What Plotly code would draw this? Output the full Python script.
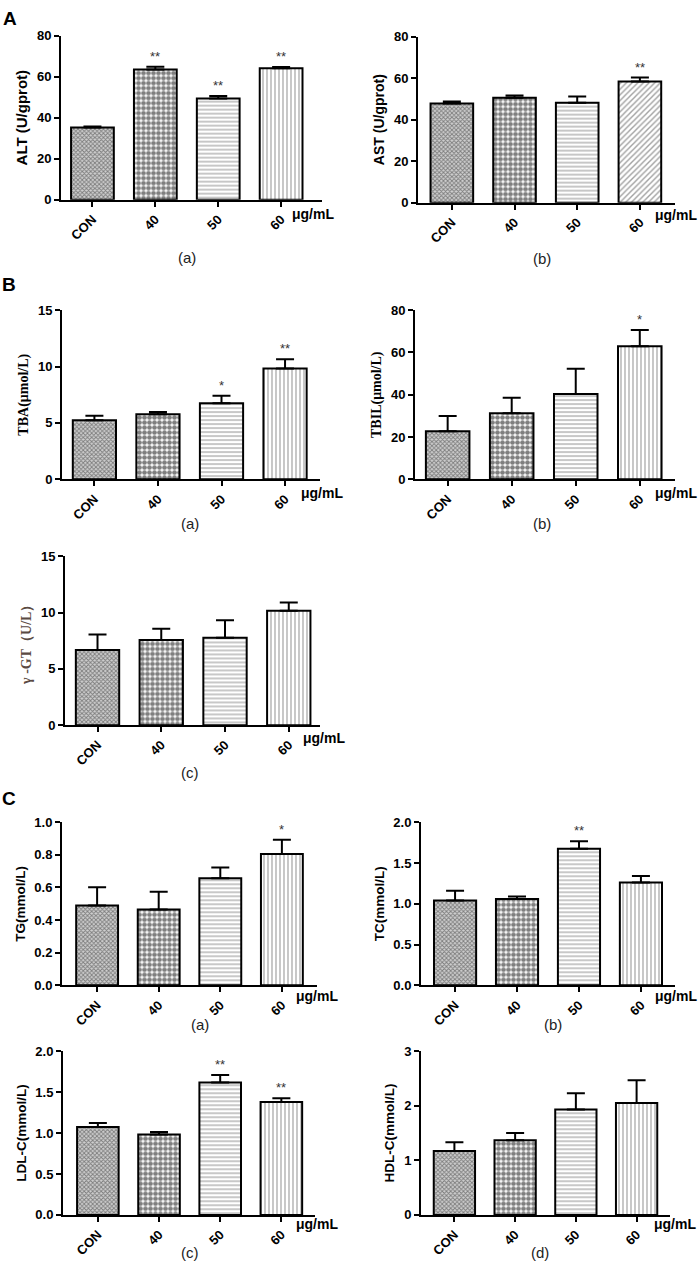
import plotly.graph_objects as go

W, H = 699, 1273

GROUPS = ["CON", "40", "50", "60"]

ALT = [35.2, 63.5, 49.3, 64.1]
ALT_ERR = [0.5, 1.3, 1.3, 0.6]
ALT_SIG = ["", "**", "**", "**"]

AST = [47.8, 50.6, 48.2, 58.4]
AST_ERR = [0.9, 1.1, 2.9, 1.9]
AST_SIG = ["", "", "", "**"]

TBA = [5.24, 5.76, 6.75, 9.82]
TBA_ERR = [0.40, 0.20, 0.65, 0.82]
TBA_SIG = ["", "", "*", "**"]

TBIL = [22.7, 31.3, 40.3, 62.9]
TBIL_ERR = [7.3, 7.3, 12.0, 7.7]
TBIL_SIG = ["", "", "", "*"]

GGT = [6.68, 7.56, 7.77, 10.17]
GGT_ERR = [1.38, 1.02, 1.55, 0.73]
GGT_SIG = ["", "", "", ""]

TG = [0.489, 0.465, 0.656, 0.806]
TG_ERR = [0.113, 0.109, 0.067, 0.087]
TG_SIG = ["", "", "", "*"]

TC = [1.042, 1.058, 1.676, 1.26]
TC_ERR = [0.118, 0.032, 0.09, 0.08]
TC_SIG = ["", "", "**", ""]

LDL = [1.075, 0.982, 1.618, 1.38]
LDL_ERR = [0.048, 0.032, 0.092, 0.045]
LDL_SIG = ["", "", "**", "**"]

HDL = [1.17, 1.37, 1.93, 2.05]
HDL_ERR = [0.16, 0.13, 0.30, 0.42]
HDL_SIG = ["", "", "", ""]

SANS = "Liberation Sans, Arial, sans-serif"
SERIF = "Liberation Serif, Times New Roman, serif"

PAT_CON = dict(shape="x", size=3, solidity=0.5, fgcolor="#2a2a2a", bgcolor="#cfcfcf")
PAT_40 = dict(shape=".", size=5, solidity=0.7, fgcolor="black", bgcolor="white")
PAT_50 = dict(shape="-", size=4, solidity=0.3, fgcolor="#444444", bgcolor="white")
PAT_60 = dict(shape="|", size=4, solidity=0.3, fgcolor="#444444", bgcolor="white")
PAT_DIAG = dict(shape="/", size=4, solidity=0.35, fgcolor="#444444", bgcolor="white")

# panel boxes in pixels: (left, right), (top, bottom)
panels = [
    dict(mean=ALT, err=ALT_ERR, sig=ALT_SIG, title="ALT (U/gprot)", tfont=SANS, tsize=15, tcolor="black",
         ymax=80, dtick=20, fmt="", px=(61, 322), py=(29, 195), xr=(-0.5, 3.65),
         cap="(a)", cap_xy=(187, 253), unit_xy=(313, 209), last=PAT_60),
    dict(mean=AST, err=AST_ERR, sig=AST_SIG, title="AST (U/gprot)", tfont=SANS, tsize=14, tcolor="black",
         ymax=80, dtick=20, fmt="", px=(418, 675), py=(30, 198), xr=(-0.54, 3.56),
         cap="(b)", cap_xy=(542, 255), unit_xy=(676, 210), last=PAT_DIAG),
    dict(mean=TBA, err=TBA_ERR, sig=TBA_SIG, title="TBA(μmol/L)", tfont=SERIF, tsize=14, tcolor="black",
         ymax=15, dtick=5, fmt="", px=(62, 320), py=(306.7, 478), xr=(-0.51, 3.55),
         cap="(a)", cap_xy=(190, 523), unit_xy=(322, 492), last=PAT_60),
    dict(mean=TBIL, err=TBIL_ERR, sig=TBIL_SIG, title="TBIL(μmol/L)", tfont=SERIF, tsize=14, tcolor="black",
         ymax=80, dtick=20, fmt="", px=(415, 675), py=(306.7, 478), xr=(-0.51, 3.55),
         cap="(b)", cap_xy=(542, 523), unit_xy=(676, 492), last=PAT_60),
    dict(mean=GGT, err=GGT_ERR, sig=GGT_SIG, title="γ -GT（U/L）", tfont=SERIF, tsize=14, tcolor="#5a4a42",
         ymax=15, dtick=5, fmt="", px=(65, 320), py=(556, 726.7), xr=(-0.51, 3.49),
         cap="(c)", cap_xy=(190, 775), unit_xy=(324, 740), last=PAT_60),
    dict(mean=TG, err=TG_ERR, sig=TG_SIG, title="TG(mmol/L)", tfont=SANS, tsize=13.5, tcolor="black",
         ymax=1.0, dtick=0.2, fmt=".1f", px=(62, 317), py=(825, 990), xr=(-0.57, 3.57),
         cap="(a)", cap_xy=(200, 1030), unit_xy=(317, 1001), last=PAT_60),
    dict(mean=TC, err=TC_ERR, sig=TC_SIG, title="TC(mmol/L)", tfont=SANS, tsize=13.5, tcolor="black",
         ymax=2.0, dtick=0.5, fmt=".1f", px=(421, 675), py=(825, 990), xr=(-0.55, 3.55),
         cap="(b)", cap_xy=(553, 1030), unit_xy=(676, 1001), last=PAT_60),
    dict(mean=LDL, err=LDL_ERR, sig=LDL_SIG, title="LDL-C(mmol/L)", tfont=SANS, tsize=13.5, tcolor="black",
         ymax=2.0, dtick=0.5, fmt=".1f", px=(63, 315), py=(1056.7, 1222.3), xr=(-0.57, 3.55),
         cap="(c)", cap_xy=(190, 1260), unit_xy=(317, 1232), last=PAT_60),
    dict(mean=HDL, err=HDL_ERR, sig=HDL_SIG, title="HDL-C(mmol/L)", tfont=SANS, tsize=13.5, tcolor="black",
         ymax=3, dtick=1, fmt="", px=(421, 670), py=(1056.7, 1222.3), xr=(-0.55, 3.55),
         cap="(d)", cap_xy=(540, 1260), unit_xy=(675, 1232), last=PAT_60),
]

fig = go.Figure()
annotations = []
layout = {}

for i, p in enumerate(panels, start=1):
    xa, ya = ("x", "y") if i == 1 else (f"x{i}", f"y{i}")
    pats = [PAT_CON, PAT_40, PAT_50, p["last"]]
    for g, m, e, pat in zip(GROUPS, p["mean"], p["err"], pats):
        fig.add_trace(go.Bar(
            x=[g], y=[m], width=0.68, xaxis=xa, yaxis=ya, showlegend=False,
            marker=dict(color="white", pattern=pat, line=dict(color="black", width=2)),
            error_y=dict(type="data", array=[e], arrayminus=[0], symmetric=False,
                         color="black", thickness=2, width=9),
        ))
    # significance marks, placed by category index
    for j, (m, e, s) in enumerate(zip(p["mean"], p["err"], p["sig"])):
        if s:
            annotations.append(dict(x=j, y=m + e, xref=xa, yref=ya, text=s, showarrow=False,
                                    yanchor="bottom", yshift=1,
                                    font=dict(family=SANS, size=13, color="#333333")))

    xn = "xaxis" if i == 1 else f"xaxis{i}"
    yn = "yaxis" if i == 1 else f"yaxis{i}"
    layout[xn] = dict(
        domain=[p["px"][0] / W, p["px"][1] / W], anchor=ya,
        type="category", categoryorder="array", categoryarray=GROUPS,
        range=list(p["xr"]), showline=True, linecolor="black", linewidth=2,
        ticks="outside", ticklen=5, tickwidth=1.5, tickcolor="black",
        tickangle=-45, showgrid=False, zeroline=False, fixedrange=True,
        tickfont=dict(family=SANS, size=13, color="black", weight="bold"),
    )
    layout[yn] = dict(
        domain=[1 - p["py"][1] / H, 1 - p["py"][0] / H], anchor=xa,
        range=[0, p["ymax"]], dtick=p["dtick"], tick0=0, tickformat=p["fmt"],
        showline=True, linecolor="black", linewidth=2,
        ticks="outside", ticklen=5, tickwidth=1.5, tickcolor="black",
        showgrid=False, zeroline=False, fixedrange=True,
        tickfont=dict(family=SANS, size=13, color="black", weight="bold"),
        title=dict(text=p["title"], standoff=6,
                   font=dict(family=p["tfont"], size=p["tsize"], color=p["tcolor"], weight="bold")),
    )

    annotations.append(dict(x=p["cap_xy"][0] / W, y=1 - p["cap_xy"][1] / H, xref="paper", yref="paper",
                            text=p["cap"], showarrow=False, xanchor="center", yanchor="middle",
                            font=dict(family=SANS, size=15, color="#222222")))
    annotations.append(dict(x=p["unit_xy"][0] / W, y=1 - p["unit_xy"][1] / H, xref="paper", yref="paper",
                            text="μg/mL", showarrow=False, xanchor="center", yanchor="middle",
                            font=dict(family=SANS, size=14, color="black", weight="bold")))

for letter, (lx, ly) in {"A": (10, 12), "B": (9, 281), "C": (9, 801)}.items():
    annotations.append(dict(x=lx / W, y=1 - ly / H, xref="paper", yref="paper", text=letter,
                            showarrow=False, xanchor="center", yanchor="middle",
                            font=dict(family=SANS, size=19, color="black", weight="bold")))

fig.update_layout(
    width=W, height=H, margin=dict(l=0, r=0, t=0, b=0),
    paper_bgcolor="white", plot_bgcolor="white",
    annotations=annotations, **layout,
)

# drop the browser's default body margin so the figure sits at the page corner
fig.write_html("out.html", config={"displayModeBar": False},
               post_script="document.body.style.margin='0';document.body.style.overflow='hidden';")
